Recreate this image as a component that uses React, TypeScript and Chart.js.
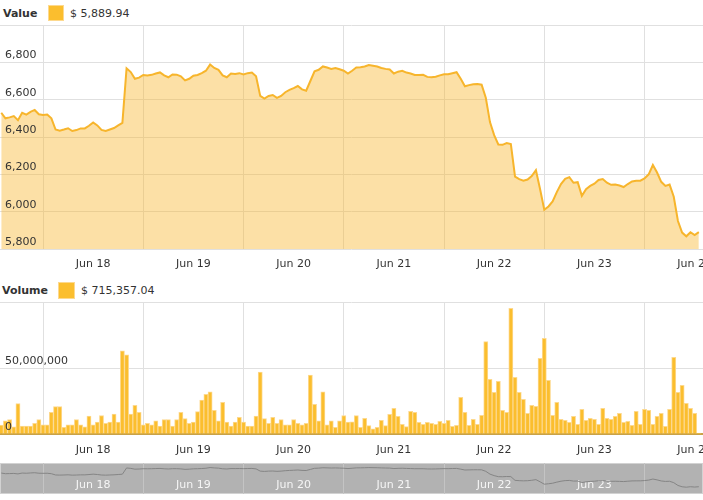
import React, { useEffect, useRef } from 'react';
import { Chart, registerables } from 'chart.js';

Chart.register(...registerables);

// ---------- data ----------
const dayLabels = ['Jun 18', 'Jun 19', 'Jun 20', 'Jun 21', 'Jun 22', 'Jun 23', 'Jun 24'];
const firstHour = -10; // first hourly sample, in hours from the first day boundary
const priceTicks = [5800, 6000, 6200, 6400, 6600, 6800, 7000];
const volumeTicks = [0, 50000000, 100000000];
const valueLegend = '$ 5,889.94';
const volumeLegend = '$ 715,357.04';

const priceValues = [
  6530, 6500, 6505, 6512, 6490, 6530, 6520, 6535, 6545, 6522,
  6518, 6520, 6500, 6440, 6434, 6440, 6447, 6432, 6437, 6446,
  6446, 6460, 6478, 6462, 6438, 6432, 6440, 6448, 6462, 6476,
  6768, 6748, 6712, 6718, 6732, 6730, 6733, 6740, 6746, 6730,
  6720, 6735, 6734, 6725, 6703, 6712, 6728, 6732, 6742, 6755,
  6788, 6770, 6760, 6730, 6720, 6740, 6738, 6742, 6735, 6742,
  6745, 6725, 6620, 6606, 6620, 6625, 6610, 6620, 6640, 6652,
  6662, 6673, 6655, 6648, 6700, 6752, 6760, 6778, 6772, 6765,
  6770, 6763, 6755, 6740, 6755, 6772, 6774, 6778, 6786, 6782,
  6778, 6770, 6765, 6762, 6740, 6750, 6755, 6745, 6740, 6732,
  6732, 6733, 6722, 6720, 6723, 6730, 6736, 6736, 6742, 6747,
  6712, 6672, 6678, 6683, 6684, 6680, 6610, 6480, 6410, 6360,
  6358, 6368, 6362, 6188, 6174, 6166, 6172, 6191, 6222, 6120,
  6010, 6028, 6055, 6105, 6148, 6176, 6185, 6155, 6158, 6085,
  6120, 6138, 6150, 6170, 6175, 6155, 6144, 6146, 6140, 6132,
  6148, 6162, 6165, 6166, 6178, 6200, 6250, 6210, 6160, 6138,
  6145, 6080, 5950, 5888, 5868, 5890, 5875, 5890,
];

// hourly volume, in millions of dollars
const volumeMillions = [
  6.8, 10, 11, 5.5, 23, 6, 6, 6, 8, 11,
  7, 7, 16.4, 20.7, 20.7, 5, 7, 7, 11, 7,
  5.5, 13.6, 7, 9, 14, 8, 9, 15, 9, 63,
  60, 15, 21.7, 16.4, 7, 8, 7, 10, 6, 11,
  11, 6, 11, 16.4, 11.7, 8, 9, 17, 25.7, 30,
  32, 18, 10, 24, 9, 6, 9, 12.6, 9, 6,
  6, 13.6, 47, 11.7, 8, 12.6, 8, 11, 7, 7,
  11, 8, 7, 8, 44.7, 22.5, 10, 32, 7, 10,
  5, 10, 14, 9,
  9.3, 13.9, 5.1, 11.9, 6.3, 4.0, 5.1, 10.4, 6.3, 14.9,
  19.4, 13.4, 7.3, 5.6, 17.2, 16.4, 8.8, 7.3, 8.8, 8.1,
  7.3, 9.6, 8.1, 10.4, 5.8, 6.6, 27.8, 16.4, 6.6, 11.1,
  7.3, 14.1, 70, 41.4, 31.6, 39.9, 17.9, 16.4, 95.2, 42.9,
  31.6, 26.3, 15.7, 21.7, 21, 57.3, 72.5, 40.7, 14.1, 24,
  11.1, 10.4, 8.8, 13.4, 7.3, 18.7, 10.4, 11.9, 11.1, 7.3,
  19.4, 11.9, 11.1, 13.4, 15.7, 8.8, 9.6, 6.6, 17.2, 7.3,
  18.7, 17.9, 7.3, 13.4, 15.7, 5.8, 18.7, 58.1, 31.6, 36.9,
  23.2, 19.4, 15.7, 0.72,
];

// ---------- helpers ----------
const FONT = '"DejaVu Sans", Verdana, sans-serif';
const tickHours = dayLabels.flatMap((_, d) => [24 * d, 24 * d + 12]);
const fmt = (v: number) => String(Math.round(v)).replace(/\B(?=(\d{3})+(?!\d))/g, ',');

const pricePoints = priceValues.map((v, i) => ({ x: firstHour + i, y: v }));
const volumePoints = volumeMillions.map((v, i) => ({ x: firstHour + i, y: v * 1e6 }));

function timeAxis(
  height: number,
  padding: number,
  labelColor: string,
  gridColor: string,
  mirror = false,
  labelCount = dayLabels.length
) {
  return {
    type: 'linear' as const,
    min: -10.3,
    max: 158,
    offset: false,
    afterBuildTicks: (s: any) => {
      s.ticks = tickHours.map((v) => ({ value: v }));
    },
    afterFit: (s: any) => {
      s.height = height;
      s.paddingLeft = 0;
      s.paddingRight = 0;
      s.paddingTop = 0;
      s.paddingBottom = 0;
    },
    ticks: {
      autoSkip: false,
      maxRotation: 0,
      minRotation: 0,
      mirror,
      padding,
      color: labelColor,
      font: { family: FONT, size: 11 },
      callback: (v: any) => {
        const n = Number(v);
        if (n % 24 !== 12) return '';
        const d = (n - 12) / 24;
        return d < labelCount ? dayLabels[d] : '';
      },
    },
    grid: {
      drawTicks: false,
      offset: false,
      lineWidth: 1,
      color: (ctx: any) => (ctx.tick && ctx.tick.value % 24 === 0 ? gridColor : 'rgba(0,0,0,0)'),
    },
    border: { display: false },
  };
}

// value axis: grid beneath the data, labels (inside the plot) above it
function valueAxis(min: number, max: number, ticks: number[]) {
  return {
    min,
    max,
    afterBuildTicks: (s: any) => {
      s.ticks = ticks.map((v) => ({ value: v }));
    },
    afterFit: (s: any) => {
      s.width = 0;
      s.paddingTop = 0;
      s.paddingBottom = 0;
    },
    ticks: {
      z: 1,
      mirror: true,
      padding: 5,
      labelOffset: -7,
      color: '#333',
      font: { family: FONT, size: 11 },
      callback: (v: any) => (Number(v) === max ? '' : fmt(Number(v))),
    },
    grid: { drawTicks: false, color: '#e0e0e0', lineWidth: 1, z: -1 },
    border: { display: false },
  };
}

const navBackground = {
  id: 'navBackground',
  beforeDraw(chart: any) {
    const { ctx, chartArea: a } = chart;
    ctx.save();
    ctx.fillStyle = '#b2b2b2';
    ctx.fillRect(a.left, a.top, a.right - a.left, a.bottom - a.top);
    ctx.strokeStyle = '#d2d2d2';
    ctx.lineWidth = 1;
    ctx.strokeRect(a.left + 0.5, a.top + 0.5, a.right - a.left - 1, a.bottom - a.top - 1);
    ctx.restore();
  },
};

const common = {
  responsive: false,
  animation: false as const,
  devicePixelRatio: 1,
  events: [] as any[],
  plugins: { legend: { display: false }, tooltip: { enabled: false } },
};

export default function App() {
  const priceRef = useRef<HTMLCanvasElement>(null);
  const volRef = useRef<HTMLCanvasElement>(null);
  const navRef = useRef<HTMLCanvasElement>(null);

  useEffect(() => {
    const charts: Chart[] = [];
    charts.push(
      new Chart(priceRef.current as HTMLCanvasElement, {
        type: 'line',
        data: {
          datasets: [
            {
              data: pricePoints,
              borderColor: '#f7b52c',
              backgroundColor: 'rgba(247,181,44,0.42)',
              borderWidth: 2,
              pointRadius: 0,
              fill: 'start',
              tension: 0,
            },
          ],
        },
        options: {
          ...common,
          layout: { padding: { top: 5, left: 0, right: 0, bottom: 0 } },
          scales: {
            x: timeAxis(31, 9, '#333', '#e0e0e0'),
            y: valueAxis(5800, 7000, priceTicks),
          },
        } as any,
      })
    );
    charts.push(
      new Chart(volRef.current as HTMLCanvasElement, {
        type: 'bar',
        data: {
          datasets: [
            {
              data: volumePoints,
              backgroundColor: '#fbbe2e',
              borderColor: '#fdd98e',
              borderWidth: 1,
              barPercentage: 1,
              categoryPercentage: 1,
            },
          ],
        },
        options: {
          ...common,
          layout: { padding: { top: 5, left: 0, right: 0, bottom: 0 } },
          scales: {
            x: { ...timeAxis(28, 10, '#333', '#e0e0e0'), border: { display: true, color: '#c9a247', width: 2 } },
            y: valueAxis(0, 100000000, volumeTicks),
          },
        } as any,
      })
    );
    charts.push(
      new Chart(navRef.current as HTMLCanvasElement, {
        type: 'line',
        data: {
          datasets: [
            {
              data: pricePoints,
              borderColor: '#858585',
              borderWidth: 1,
              pointRadius: 0,
              fill: false,
              tension: 0,
            },
          ],
        },
        options: {
          ...common,
          layout: { padding: { top: 1, left: 0, right: 0, bottom: 2 } },
          scales: {
            x: timeAxis(0, 2, '#f6f6f6', '#c4c4c4', true, dayLabels.length - 1),
            y: { display: false, min: 5550, max: 7000 },
          },
        } as any,
        plugins: [navBackground],
      })
    );
    return () => charts.forEach((c) => c.destroy());
  }, []);

  const text = { position: 'absolute' as const, lineHeight: '16px', whiteSpace: 'nowrap' as const };
  const swatch = {
    position: 'absolute' as const,
    background: '#fbbe2e',
    border: '1px solid #fdd98e',
    boxSizing: 'border-box' as const,
  };

  return (
    <div
      style={{
        position: 'absolute',
        left: 0,
        top: 0,
        width: 703,
        height: 500,
        overflow: 'hidden',
        background: '#fff',
        fontFamily: FONT,
        fontSize: 11,
        color: '#333',
      }}
    >
      <span style={{ ...text, left: 3, top: 6, fontWeight: 'bold' }}>Value</span>
      <span style={{ ...swatch, left: 48, top: 5, width: 16, height: 16 }} />
      <span style={{ ...text, left: 70, top: 6 }}>{valueLegend}</span>

      <span style={{ ...text, left: 2, top: 283, fontWeight: 'bold' }}>Volume</span>
      <span style={{ ...swatch, left: 58, top: 282, width: 17, height: 17 }} />
      <span style={{ ...text, left: 81, top: 283 }}>{volumeLegend}</span>

      <canvas ref={priceRef} width={703} height={260} style={{ position: 'absolute', left: 0, top: 20 }} />
      <canvas ref={volRef} width={703} height={165} style={{ position: 'absolute', left: 0, top: 297 }} />
      <canvas ref={navRef} width={703} height={34} style={{ position: 'absolute', left: 0, top: 462 }} />
    </div>
  );
}
